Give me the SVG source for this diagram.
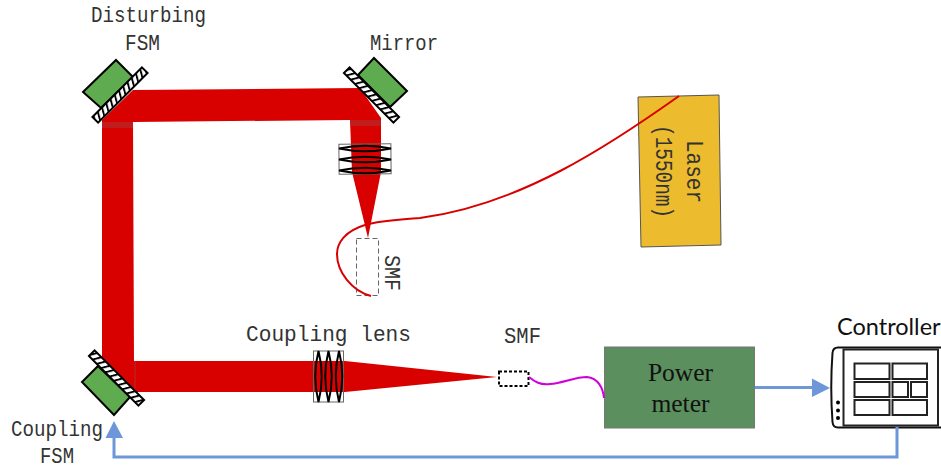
<svg xmlns="http://www.w3.org/2000/svg" width="941" height="470" viewBox="0 0 941 470">
<style>
.m{font-family:"Liberation Mono",monospace;font-size:22px;fill:#333}
.b{fill:#d90000}
.g{fill:#5fab4f;stroke:#000;stroke-width:2;stroke-linejoin:miter}
.s{fill:url(#h);stroke:#000;stroke-width:2}
.l{fill:none;stroke:#000;stroke-width:2}
.f{fill:none;stroke:#666;stroke-width:1}
.a{fill:none;stroke:#6d97d8;stroke-width:3}
.h{fill:#6d97d8}
.c{fill:#fff;stroke:#222;stroke-width:2}
</style>
<defs>
<pattern id="h" width="6" height="8" patternUnits="userSpaceOnUse" patternTransform="skewX(-30)">
<rect width="6" height="8" fill="#fff"/>
<rect width="2.200" height="8" fill="#000"/>
</pattern>
</defs>
<g id="beam">
<path class="b" d="M133 90L360 88L381 118L381 172L368 238L352 172L350 120L133 122L134 361L345 361L497 377L345 392L134 392L102 360L102 120Z"/>
<rect x="102" y="122" width="31" height="6" fill="#b03030" opacity=".6"/>
<rect x="350" y="120" width="31" height="6" fill="#b03030" opacity=".6"/>
<rect x="134" y="361" width="2" height="31" fill="#b03030" opacity=".5"/>
</g>
<g id="disturbing-fsm">
<path class="g" d="M116 60L133 77L101 108L83 92Z"/>
<rect class="s" x="85" y="91" width="70" height="8" transform="rotate(-45 120 95)"/>
<text class="m" x="91" y="22" textLength="115" lengthAdjust="spacingAndGlyphs">Disturbing</text>
<text class="m" x="125" y="50" textLength="35" lengthAdjust="spacingAndGlyphs">FSM</text>
</g>
<g id="mirror">
<path class="g" d="M374 58L407 91L390 107L358 75Z"/>
<rect class="s" x="336.500" y="91" width="70" height="8" transform="rotate(45 371.500 95)"/>
<text class="m" x="370" y="50" textLength="68" lengthAdjust="spacingAndGlyphs">Mirror</text>
</g>
<g id="coupling-fsm">
<path class="g" d="M98 366L130 397L114 415L82 382Z"/>
<rect class="s" x="81.500" y="374" width="70" height="8" transform="rotate(45 116.500 378)"/>
<text class="m" x="11" y="436" textLength="92" lengthAdjust="spacingAndGlyphs">Coupling</text>
<text class="m" x="40" y="463" textLength="34" lengthAdjust="spacingAndGlyphs">FSM</text>
</g>
<g id="upper-lens">
<rect class="f" x="339" y="144" width="52" height="30" transform="rotate(-0.500 365 159)"/>
<path class="l" d="M339 148.500Q365 143 391 148.500Q365 154 339 148.500Z"/>
<path class="l" d="M339 159.500Q365 154 391 159.500Q365 165 339 159.500Z"/>
<path class="l" d="M339 170.500Q365 165 391 170.500Q365 176 339 170.500Z"/>
</g>
<g id="coupling-lens">
<rect class="f" x="313.500" y="351" width="30" height="51"/>
<path class="l" d="M318.500 351Q312 376.500 318.500 402Q325 376.500 318.500 351Z"/>
<path class="l" d="M328.500 351Q322 376.500 328.500 402Q335 376.500 328.500 351Z"/>
<path class="l" d="M339 351Q332.500 376.500 339 402Q345.500 376.500 339 351Z"/>
<text class="m" x="246" y="341" textLength="165" lengthAdjust="spacingAndGlyphs">Coupling lens</text>
</g>
<g id="upper-smf">
<rect x="356.500" y="238.500" width="22" height="57" fill="none" stroke="#666" stroke-width="1" stroke-dasharray="5 3"/>
<text class="m" transform="translate(385 255) rotate(90)" textLength="36" lengthAdjust="spacingAndGlyphs">SMF</text>
</g>
<g id="laser">
<path d="M638 97L719 95L721 245L641 247Z" fill="#edbb2e" stroke="#555" stroke-width="1"/>
<text class="m" style="font-size:24px" transform="translate(687 140) rotate(90)" textLength="63" lengthAdjust="spacingAndGlyphs">Laser</text>
<text class="m" style="font-size:24px" transform="translate(656 125) rotate(90)" textLength="93" lengthAdjust="spacingAndGlyphs">(1550nm)</text>
</g>
<g id="lower-smf">
<rect x="499" y="371.500" width="29.500" height="14.500" fill="none" stroke="#000" stroke-width="2" stroke-dasharray="3 2"/>
<text class="m" x="504" y="343" textLength="37" lengthAdjust="spacingAndGlyphs">SMF</text>
</g>
<g id="power-meter">
<rect x="604.500" y="347" width="150" height="81" fill="#5b8f5e" stroke="#777" stroke-width="1"/>
<text x="680.500" y="381" text-anchor="middle" font-family="Liberation Serif, serif" font-size="25.500" fill="#111">Power</text>
<text x="680.500" y="412" text-anchor="middle" font-family="Liberation Serif, serif" font-size="25.500" fill="#111">meter</text>
</g>
<g id="controller">
<path d="M945 347.500L838 347.500Q833 347.500 832.500 353Q830 387 832.500 422Q833 427.500 838 427.500L945 427.500" fill="#fff" stroke="#111" stroke-width="2"/>
<rect x="843.500" y="349.500" width="94.500" height="76" fill="#fff" stroke="#222" stroke-width="2"/>
<rect class="c" x="854.500" y="363.500" width="35" height="15.500"/>
<rect class="c" x="892.500" y="363.500" width="34.500" height="15.500"/>
<rect class="c" x="854.500" y="382" width="35" height="15"/>
<rect class="c" x="892.500" y="382" width="15.500" height="15"/>
<rect class="c" x="911" y="382" width="16" height="15"/>
<rect class="c" x="854.500" y="400" width="35" height="15"/>
<rect class="c" x="892.500" y="400" width="34.500" height="15"/>
<circle cx="838" cy="402.500" r="2"/>
<circle cx="838" cy="410.500" r="2"/>
<circle cx="838" cy="418" r="2"/>
<text x="837" y="335" font-family="Lato, sans-serif" font-size="23.500" fill="#111">Controller</text>
</g>
<g id="connectors">
<path d="M679 96C610 145 520 205 420 218C395 220 378 221 365 225C345 231 337 243 337 254C337 272 352 291 371 296" fill="none" stroke="#d90000" stroke-width="2"/>
<path d="M529 377C535 382 540 385 550 384C563 383 575 377 587 377C598 378 603 388 604 398" fill="none" stroke="#d000d8" stroke-width="2"/>
<path class="a" d="M755 387.500H814"/>
<path class="h" d="M812 378.500L830 388L812 397Z"/>
<path class="a" d="M897 427V457H114V436"/>
<path class="h" d="M114 421L123 438H105.500Z"/>
</g>
</svg>
